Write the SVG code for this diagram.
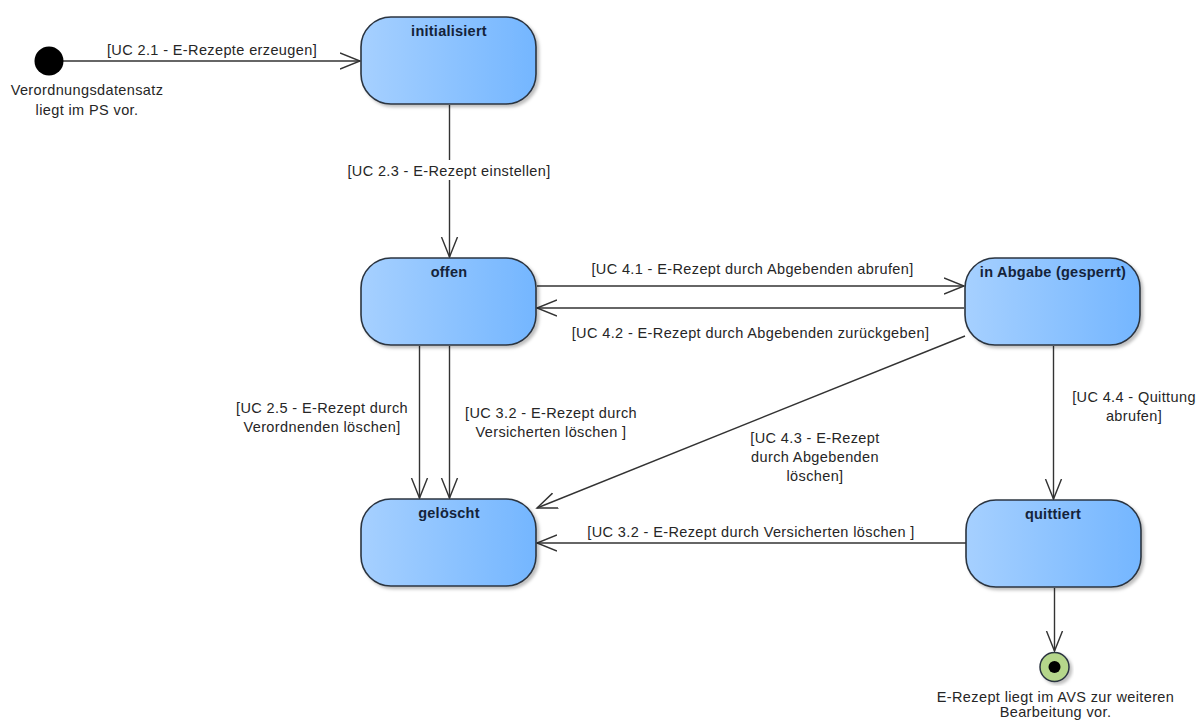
<svg xmlns="http://www.w3.org/2000/svg" width="1198" height="720" viewBox="0 0 1198 720">
<style>
text{font-family:"Liberation Sans",Arial,sans-serif;font-size:14.5px;letter-spacing:.38px;fill:#262626;text-anchor:middle}
.t{font-weight:bold;fill:#14233a;letter-spacing:.25px}
.s{fill:url(#g);stroke:#2b3440;stroke-width:1.6;filter:url(#sh)}
.c{fill:none;stroke:#333;stroke-width:1.4;marker-end:url(#a)}
.p{fill:none;stroke:#333;stroke-width:1.4}
</style>
<defs>
<linearGradient id="g" x1="0" y1="0" x2="1" y2="0"><stop offset="0" stop-color="#a6d0ff"/><stop offset="1" stop-color="#74b6ff"/></linearGradient>
<filter id="sh" x="-10%" y="-10%" width="125%" height="125%"><feDropShadow dx="2.5" dy="2.5" stdDeviation="1.5" flood-color="#000" flood-opacity="0.25"/></filter>
<marker id="a" markerUnits="userSpaceOnUse" markerWidth="24" markerHeight="20" refX="20" refY="8" orient="auto" viewBox="0 0 24 16"><path d="M0 0L20 8L0 16" fill="none" stroke="#333" stroke-width="1.4"/></marker>
</defs>
<g id="connectors">
<path class="c" d="M62 61H360"/>
<path class="p" d="M449.500 105V160"/>
<path class="c" d="M449.500 180V257"/>
<path class="c" d="M537 286H964"/>
<path class="c" d="M964 308H537"/>
<path class="c" d="M419.500 346V498"/>
<path class="c" d="M449.500 346V498"/>
<path class="c" d="M965 336L537 508"/>
<path class="c" d="M1053.500 346V499"/>
<path class="c" d="M966 543H537"/>
<path class="c" d="M1054.500 588V651"/>
</g>
<g id="edge-labels">
<text x="212" y="55">[UC 2.1 - E-Rezepte erzeugen]</text>
<text x="449" y="176">[UC 2.3 - E-Rezept einstellen]</text>
<text x="752.500" y="274">[UC 4.1 - E-Rezept durch Abgebenden abrufen]</text>
<text x="750.500" y="338">[UC 4.2 - E-Rezept durch Abgebenden zurückgeben]</text>
<text x="322" y="413">[UC 2.5 - E-Rezept durch</text>
<text x="322" y="432">Verordnenden löschen]</text>
<text x="551" y="418">[UC 3.2 - E-Rezept durch</text>
<text x="551" y="437">Versicherten löschen ]</text>
<text x="815" y="443">[UC 4.3 - E-Rezept</text>
<text x="815" y="462">durch Abgebenden</text>
<text x="815" y="481">löschen]</text>
<text x="1134" y="402">[UC 4.4 - Quittung</text>
<text x="1134" y="421">abrufen]</text>
<text x="751" y="537">[UC 3.2 - E-Rezept durch Versicherten löschen ]</text>
</g>
<g id="start"><circle cx="49" cy="61" r="14.500" fill="#000"/>
<text x="87" y="95">Verordnungsdatensatz</text><text x="87" y="115">liegt im PS vor.</text></g>
<g id="initialisiert"><rect class="s" x="361" y="17" width="175" height="87" rx="30"/><text class="t" x="449" y="36">initialisiert</text></g>
<g id="offen"><rect class="s" x="361" y="258" width="175" height="87" rx="30"/><text class="t" x="449" y="277">offen</text></g>
<g id="in-abgabe"><rect class="s" x="965" y="258" width="175" height="87" rx="30"/><text class="t" x="1053" y="277">in Abgabe (gesperrt)</text></g>
<g id="geloescht"><rect class="s" x="361" y="499" width="175" height="87" rx="30"/><text class="t" x="449" y="518">gelöscht</text></g>
<g id="quittiert"><rect class="s" x="966" y="500" width="175" height="87" rx="30"/><text class="t" x="1053" y="519">quittiert</text></g>
<g id="end"><circle cx="1054.500" cy="667" r="14.500" fill="#b5d68b" stroke="#2b3440" stroke-width="1.500" filter="url(#sh)"/><circle cx="1054.500" cy="667" r="6" fill="#000"/>
<text x="1055.500" y="702">E-Rezept liegt im AVS zur weiteren</text><text x="1055.500" y="716.500">Bearbeitung vor.</text></g>
</svg>
